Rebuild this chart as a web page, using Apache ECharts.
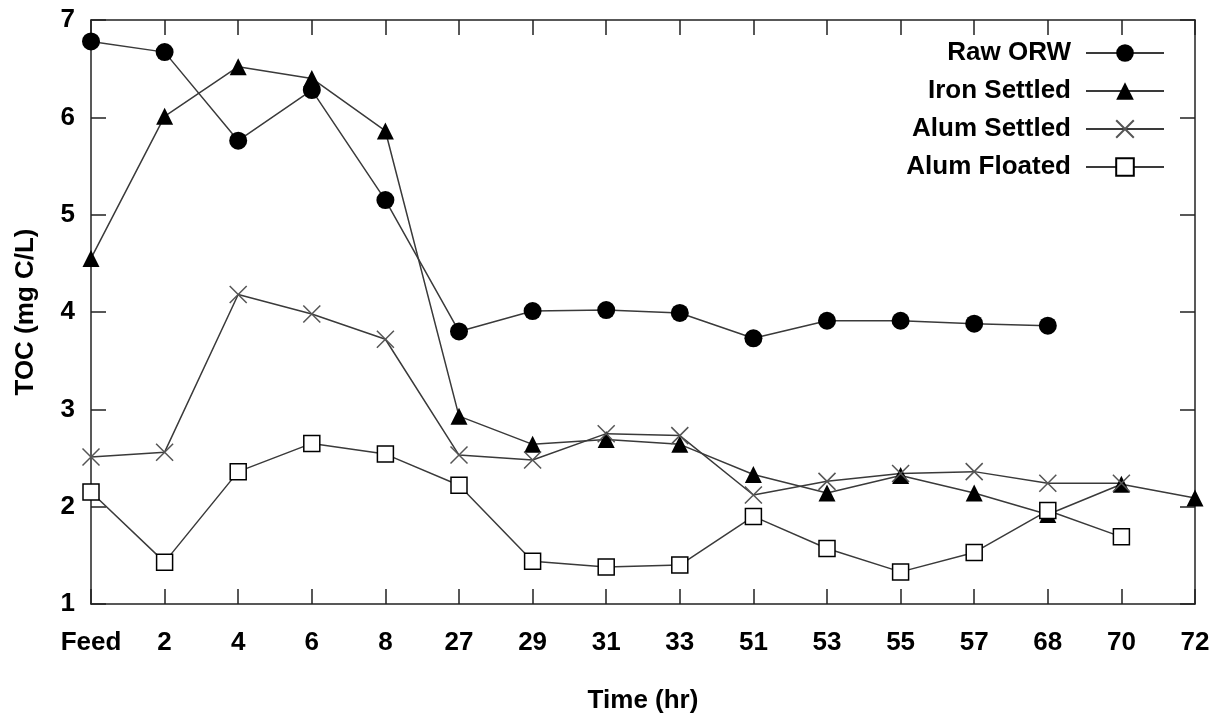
<!DOCTYPE html>
<html>
<head>
<meta charset="utf-8">
<script src="https://cdn.jsdelivr.net/npm/echarts@6/dist/echarts.min.js"></script>
<style>
  html, body { margin: 0; padding: 0; background: #fff; }
  #chart { width: 1229px; height: 723px; }
</style>
</head>
<body>
<div id="chart"></div>
<script>
const categories = ['Feed', '2', '4', '6', '8', '27', '29', '31', '33', '51', '53', '55', '57', '68', '70', '72'];

const rawOrw = [6.78, 6.67, 5.76, 6.28, 5.15, 3.80, 4.01, 4.02, 3.99, 3.73, 3.91, 3.91, 3.88, 3.86, null, null];
const ironSettled = [4.55, 6.01, 6.52, 6.40, 5.86, 2.93, 2.64, 2.69, 2.64, 2.33, 2.14, 2.32, 2.14, 1.92, 2.23, 2.09];
const alumSettled = [2.51, 2.56, 4.18, 3.98, 3.72, 2.53, 2.48, 2.75, 2.73, 2.12, 2.26, 2.34, 2.36, 2.24, 2.24, null];
const alumFloated = [2.15, 1.43, 2.36, 2.65, 2.54, 2.22, 1.44, 1.38, 1.40, 1.90, 1.57, 1.33, 1.53, 1.96, 1.69, null];

const font = 'Liberation Sans, Arial, sans-serif';
const lineColor = '#3a3a3a';

function makeSeries(name, data, symbol, size, itemStyle) {
  return {
    name: name,
    type: 'line',
    data: data,
    symbol: symbol,
    symbolSize: size,
    showAllSymbol: true,
    connectNulls: false,
    animation: false,
    lineStyle: { color: lineColor, width: 1.5 },
    itemStyle: itemStyle,
    emphasis: { disabled: true },
  };
}

const myChart = echarts.init(document.getElementById('chart'));
myChart.setOption({
  animation: false,
  textStyle: { fontFamily: font },
  grid: {
    left: 91,
    right: 34,
    top: 20,
    bottom: 119,
    outerBoundsMode: 'none',
    containLabel: false,
  },
  legend: {
    right: 64,
    top: 40,
    orient: 'vertical',
    align: 'right',
    padding: 0,
    itemWidth: 78,
    itemHeight: 22,
    itemGap: 12,
    textStyle: { fontSize: 26, fontWeight: 'bold', color: '#000', fontFamily: font, padding: [0, 10, 0, 0] },
    data: ['Raw ORW', 'Iron Settled', 'Alum Settled', 'Alum Floated'],
  },
  xAxis: [
    {
      type: 'category',
      data: categories,
      boundaryGap: false,
      name: 'Time (hr)',
      nameLocation: 'middle',
      nameGap: 84,
      nameMoveOverlap: false,
      nameTextStyle: { fontSize: 26, fontWeight: 'bold', color: '#000' },
      axisLine: { lineStyle: { color: '#222', width: 1.5 } },
      axisTick: { inside: true, length: 15, lineStyle: { color: '#222', width: 1.5 } },
      axisLabel: { fontSize: 26, fontWeight: 'bold', color: '#000', margin: 26, interval: 0 },
      splitLine: { show: false },
    },
    {
      type: 'category',
      data: categories,
      boundaryGap: false,
      position: 'top',
      axisLine: { lineStyle: { color: '#222', width: 1.5 } },
      axisTick: { inside: true, length: 15, interval: 0, lineStyle: { color: '#222', width: 1.5 } },
      axisLabel: { show: false },
      splitLine: { show: false },
    },
  ],
  yAxis: [
    {
      type: 'value',
      min: 1,
      max: 7,
      interval: 1,
      name: 'TOC (mg C/L)',
      nameLocation: 'middle',
      nameGap: 52,
      nameMoveOverlap: false,
      nameTextStyle: { fontSize: 26, fontWeight: 'bold', color: '#000' },
      axisLine: { show: true, lineStyle: { color: '#222', width: 1.5 } },
      axisTick: { show: true, inside: true, length: 15, lineStyle: { color: '#222', width: 1.5 } },
      axisLabel: { fontSize: 26, fontWeight: 'bold', color: '#000', margin: 16 },
      splitLine: { show: false },
    },
    {
      type: 'value',
      min: 1,
      max: 7,
      interval: 1,
      position: 'right',
      axisLine: { show: true, lineStyle: { color: '#222', width: 1.5 } },
      axisTick: { show: true, inside: true, length: 15, lineStyle: { color: '#222', width: 1.5 } },
      axisLabel: { show: false },
      splitLine: { show: false },
    },
  ],
  series: [
    makeSeries('Raw ORW', rawOrw, 'circle', 18, { color: '#000' }),
    makeSeries('Iron Settled', ironSettled, 'triangle', 17, { color: '#000' }),
    makeSeries('Alum Settled', alumSettled, 'path://M0,0L10,10M10,0L0,10', 17,
      { color: 'rgba(0,0,0,0)', borderColor: '#555', borderWidth: 1.5 }),
    makeSeries('Alum Floated', alumFloated, 'rect', 16,
      { color: '#fff', borderColor: '#000', borderWidth: 1.5 }),
  ],
});
</script>
</body>
</html>
